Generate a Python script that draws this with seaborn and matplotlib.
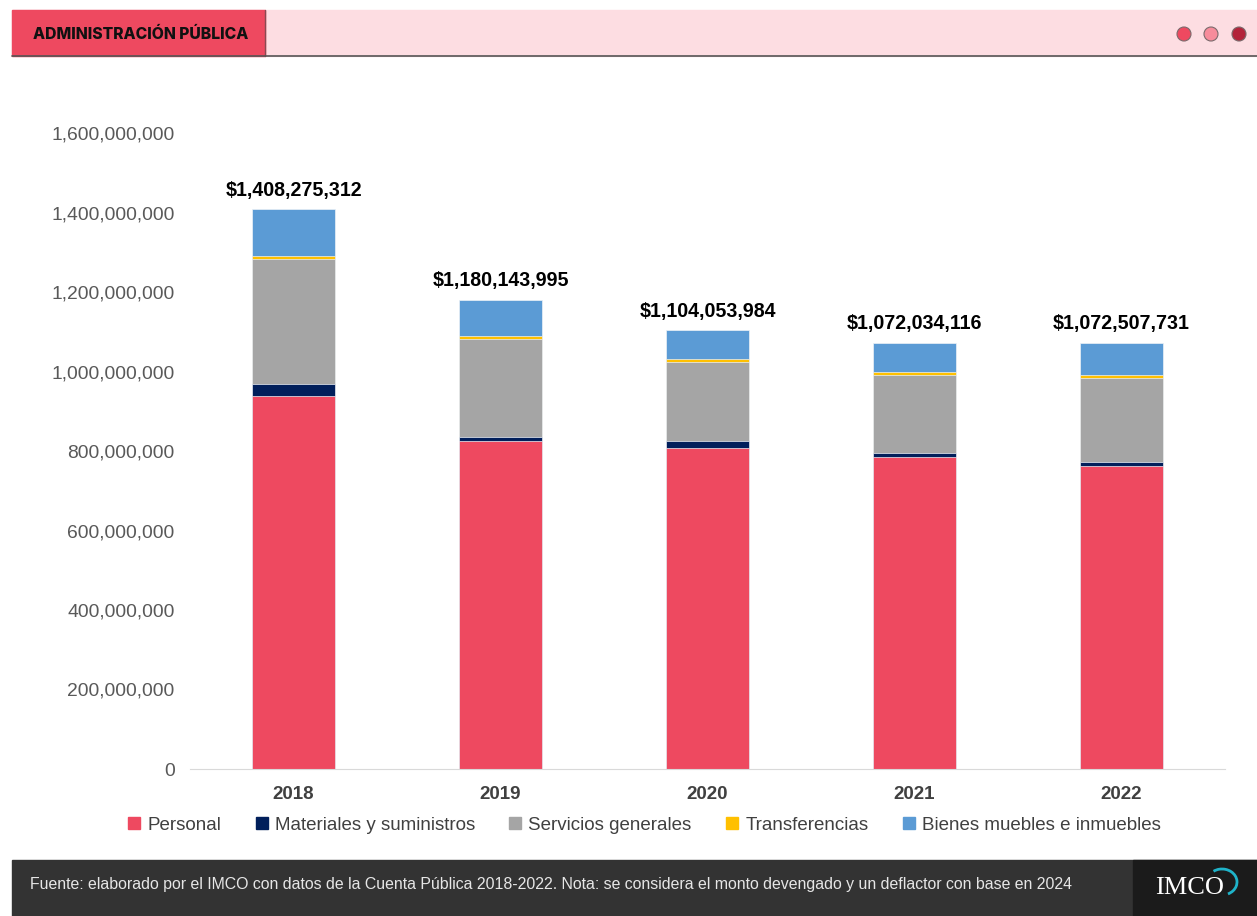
#!/usr/bin/env python

import pandas as pd
import numpy as np
import seaborn as sns
import matplotlib.pyplot as plt
from matplotlib.patches import Rectangle, Ellipse, Arc
from matplotlib.lines import Line2D

# data (pesos)
years = ["2018", "2019", "2020", "2021", "2022"]
personal = [938e6, 825e6, 808e6, 786e6, 762e6]
materiales = [30e6, 9.5e6, 16e6, 8.5e6, 9.3e6]
servicios = [315e6, 246.5e6, 200e6, 197e6, 212e6]
transferencias = [7.5e6, 8.3e6, 6.7e6, 8.3e6, 7.8e6]
totals = [1408275312, 1180143995, 1104053984, 1072034116, 1072507731]
total_labels = ["$1,408,275,312", "$1,180,143,995", "$1,104,053,984",
                "$1,072,034,116", "$1,072,507,731"]

series = ["Personal", "Materiales y suministros", "Servicios generales",
          "Transferencias", "Bienes muebles e inmuebles"]
colors = ["#EE4960", "#011F5B", "#A5A5A5", "#FFC000", "#5B9BD5"]

df = pd.DataFrame({
    "year": years,
    "Personal": personal,
    "Materiales y suministros": materiales,
    "Servicios generales": servicios,
    "Transferencias": transferencias,
})
df["Bienes muebles e inmuebles"] = np.array(totals) - df[series[:4]].sum(axis=1)

# cumulative heights, drawn tallest first so each layer shows as a stack
cum = df[series].cumsum(axis=1)
cum["year"] = years

sns.set_style("white")
plt.rcParams["font.family"] = ["Liberation Sans", "DejaVu Sans"]

W, H = 1257, 916
fig = plt.figure(figsize=(W / 100, H / 100), dpi=100)
ax = fig.add_axes([190 / W, 1 - 769 / H, (1225 - 190) / W, (769 - 133) / H])

for name, col in reversed(list(zip(series, colors))):
    sns.barplot(data=cum, x="year", y=name, color=col, width=0.4,
                saturation=1, edgecolor="#eef2f7", linewidth=0.5, ax=ax)

ax.set_ylim(0, 1.6e9)
ax.set_xlim(-0.5, 4.5)
ax.set_yticks(np.arange(0, 1.6e9 + 1, 2e8))
ax.set_yticklabels(["{:,.0f}".format(v) for v in np.arange(0, 1.6e9 + 1, 2e8)],
                   fontsize=13.9, color="#595959")
ax.set_xticklabels(years, fontsize=13.5, fontweight="bold", color="#404040")
ax.set_xlabel("")
ax.set_ylabel("")
ax.tick_params(axis="y", length=0, pad=11)
ax.tick_params(axis="x", length=0, pad=12)
for s in ["top", "right", "left"]:
    ax.spines[s].set_visible(False)
ax.spines["bottom"].set_color("#d9d9d9")

for i, (t, lab) in enumerate(zip(totals, total_labels)):
    ax.text(i, t + 2.4e7, lab, ha="center", va="bottom", fontsize=14.1,
            fontweight="bold", color="black")

handles = [Line2D([], [], marker="s", linestyle="", color=c, markersize=8)
           for c in colors]
fig.legend(handles, series, loc="center", bbox_to_anchor=(640 / W, 1 - 825 / H),
           ncol=5, frameon=False, fontsize=13.5, handletextpad=-0.1,
           handlelength=1.6, columnspacing=1.35, labelcolor="#404040")

# header band
fig.patches.append(Rectangle((12 / W, 1 - 56 / H), (W - 12) / W, 46 / H,
                             transform=fig.transFigure, color="#FDDDE2", zorder=0))
fig.patches.append(Rectangle((12 / W, 1 - 56 / H), (265 - 12) / W, 46 / H,
                             transform=fig.transFigure, color="#EE4960", zorder=1))
fig.lines.append(Line2D([265 / W, 265 / W], [1 - 56 / H, 1 - 10 / H],
                        transform=fig.transFigure, color="#8a4a52", lw=1))
fig.lines.append(Line2D([12 / W, 1], [1 - 56 / H, 1 - 56 / H],
                        transform=fig.transFigure, color="#555555", lw=1.2))
fig.text(33 / W, 1 - 34 / H, "ADMINISTRACIÓN PÚBLICA", fontsize=11.3,
         fontweight="heavy", color="#111111", va="center", ha="left",
         family=["Inter", "DejaVu Sans"])
for x, c in zip([1184, 1211, 1239], ["#EE4960", "#F78C9B", "#B3233A"]):
    fig.patches.append(Ellipse((x / W, 1 - 34 / H), 14 / W, 14 / H,
                               transform=fig.transFigure, facecolor=c,
                               edgecolor="#7a6a6c", lw=0.8, zorder=2))

# footer band
fig.patches.append(Rectangle((12 / W, 0), (W - 12) / W, 56 / H,
                             transform=fig.transFigure, color="#333333", zorder=0))
fig.patches.append(Rectangle((1133 / W, 0), (W - 1133) / W, 56 / H,
                             transform=fig.transFigure, color="#1b1b1b", zorder=1))
fig.text(30 / W, 1 - 884 / H,
         "Fuente: elaborado por el IMCO con datos de la Cuenta Pública 2018-2022. "
         "Nota: se considera el monto devengado y un deflactor con base en 2024",
         fontsize=11.45, color="#e6e6e6", va="center", ha="left")
fig.text(1155 / W, 1 - 888 / H, "IMCO", fontsize=19, color="white",
         va="center", ha="left", family=["Liberation Serif", "DejaVu Serif"])
fig.patches.append(Arc((1222 / W, 1 - 882 / H), 30 / W, 26 / H, theta1=290,
                       theta2=120, transform=fig.transFigure, color="#1fb3c9", lw=2))

fig.savefig("out.png", dpi=100)
